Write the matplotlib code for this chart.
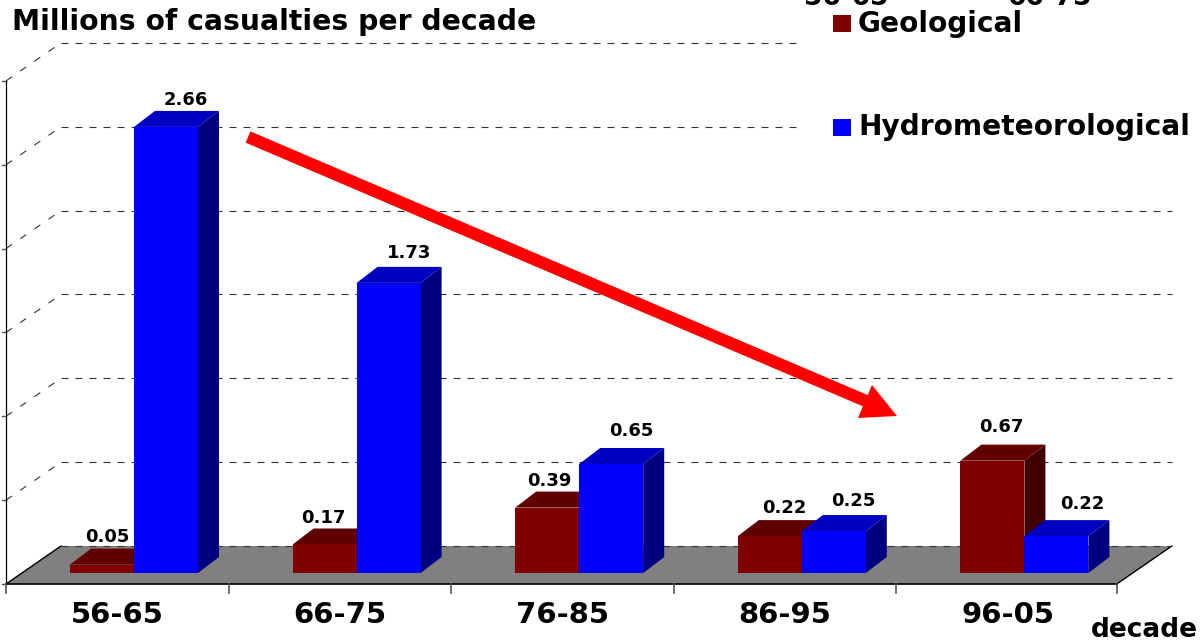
import matplotlib
matplotlib.use('Agg')
import matplotlib.pyplot as plt
from matplotlib.patches import Polygon, Rectangle
from matplotlib.transforms import Affine2D

decades = ['56-65', '66-75', '76-85', '86-95', '96-05']
geological = [0.05, 0.17, 0.39, 0.22, 0.67]
hydromet = [2.66, 1.73, 0.65, 0.25, 0.22]
grid_levels = [0.0, 0.5, 1.0, 1.5, 2.0, 2.5, 3.0]

# label nudges in pixels, the labels sit unevenly in the original
geo_label_dx = [37, 31, 34, 47, 41]
geo_label_dy = [12, 10, 11, 12, 18]
hyd_label_dx = [52, 53, 52, 52, 58]
hyd_label_dy = [11, 14, 17, 14, 16]

W, H = 1204, 643
X_UNIT = 222.6  # pixels per category
Y_UNIT = 167.7  # pixels per million

fig = plt.figure(figsize=(W / 100, H / 100), dpi=100)
ax = fig.add_axes([0, 0, 1, 1])
ax.set_xlim(-6 / X_UNIT, (W - 6) / X_UNIT)
ax.set_ylim((573 - H) / Y_UNIT, 573 / Y_UNIT)
ax.axis('off')

# pixel coordinates for the things that are not data (legend, arrow)
px = Affine2D().scale(1, -1).translate(0, H)

n = len(decades)
floor_y = -11 / Y_UNIT
back_y = 27 / Y_UNIT
floor_dx = 55 / X_UNIT
bar_w = 64 / X_UNIT
bar_dx = 21 / X_UNIT
bar_dy = 16 / Y_UNIT


def bar3d(x, v, front, top, side):
    ax.add_patch(Polygon([(x + bar_w, 0), (x + bar_w + bar_dx, bar_dy), (x + bar_w + bar_dx, v + bar_dy), (x + bar_w, v)], fc=side, ec='none', zorder=3))
    ax.add_patch(Polygon([(x, v), (x + bar_dx, v + bar_dy), (x + bar_w + bar_dx, v + bar_dy), (x + bar_w, v)], fc=top, ec='none', zorder=3))
    ax.add_patch(Rectangle((x, 0), bar_w, v, fc=front, ec='none', zorder=3))


# floor
ax.add_patch(Polygon([(0, floor_y), (floor_dx, back_y), (n - 0.01 + floor_dx, back_y), (n - 0.01, floor_y)], fc='#808080', ec='none', zorder=1))
ax.plot([n - 0.01, n - 0.01 + floor_dx], [floor_y, back_y], color='black', lw=1, zorder=2)
ax.plot([0, floor_dx], [floor_y, back_y], color='black', lw=1, zorder=2)

# grid and left wall
for g in grid_levels:
    ax.plot([floor_dx, n - 0.01 + floor_dx], [back_y + g, back_y + g], color='#333333', lw=0.8, ls=(0, (6.3, 6.3)), zorder=2)
    if g > 0:
        ax.plot([0, floor_dx], [floor_y + g, back_y + g], color='#333333', lw=0.8, ls=(0, (6.5, 9)), zorder=2)
    ax.plot([-0.02, 0], [floor_y + g, floor_y + g], color='#555555', lw=1, zorder=2)
ax.plot([0, 0], [floor_y, floor_y + grid_levels[-1]], color='black', lw=0.9, zorder=2)

# front axis
ax.plot([0, n - 0.01], [floor_y, floor_y], color='black', lw=1.2, zorder=2)
for i in range(n + 1):
    ax.plot([min(i, n - 0.01)] * 2, [floor_y, floor_y - 9 / Y_UNIT], color='#555555', lw=1.2, zorder=2)

# white area behind the legend
ax.add_patch(Rectangle((800, 0), 404, 170, transform=px, fc='white', ec='none', zorder=2.5))

for i in range(n):
    x0 = i + 64 / X_UNIT
    x1 = x0 + bar_w
    bar3d(x0, geological[i], '#800000', '#600000', '#400000')
    bar3d(x1, hydromet[i], '#0000ff', '#0000c0', '#000080')
    ax.text(x0 + geo_label_dx[i] / X_UNIT, geological[i] + bar_dy + geo_label_dy[i] / Y_UNIT, '%.2f' % geological[i],
            ha='center', va='center', fontsize=13, fontweight='bold', zorder=5)
    ax.text(x1 + hyd_label_dx[i] / X_UNIT, hydromet[i] + bar_dy + hyd_label_dy[i] / Y_UNIT, '%.2f' % hydromet[i],
            ha='center', va='center', fontsize=13, fontweight='bold', zorder=5)
    ax.text(i + 0.5, -50 / Y_UNIT, decades[i], ha='center', va='baseline', fontsize=21, fontweight='bold', zorder=5)

# trend arrow
ax.plot([248, 866], [137, 401], transform=px, color='#ff0000', lw=8.8, solid_capstyle='butt', zorder=6)
ax.add_patch(Polygon([(872, 385), (897, 416), (858, 418)], transform=px, fc='#ff0000', ec='none', zorder=6))

# legend and titles
ax.add_patch(Rectangle((833, 15), 18, 17, transform=px, fc='#800000', ec='none', zorder=6))
ax.add_patch(Rectangle((833, 119), 18, 17, transform=px, fc='#0000ff', ec='none', zorder=6))
ax.text(858, 32, 'Geological', transform=px, fontsize=20.2, fontweight='bold', va='baseline', zorder=6)
ax.text(858, 135, 'Hydrometeorological', transform=px, fontsize=20.2, fontweight='bold', va='baseline', zorder=6)
ax.text(12, 30, 'Millions of casualties per decade', transform=px, fontsize=20.3, fontweight='bold', va='baseline', zorder=6)
ax.text(1091, 637, 'decade', transform=px, fontsize=19, fontweight='bold', va='baseline', zorder=6)
ax.text(846, 5, decades[0], transform=px, fontsize=19, fontweight='bold', ha='center', va='baseline', zorder=6)
ax.text(1050, 5, decades[1], transform=px, fontsize=19, fontweight='bold', ha='center', va='baseline', zorder=6)

fig.savefig('out.png', dpi=100)
plt.close()
